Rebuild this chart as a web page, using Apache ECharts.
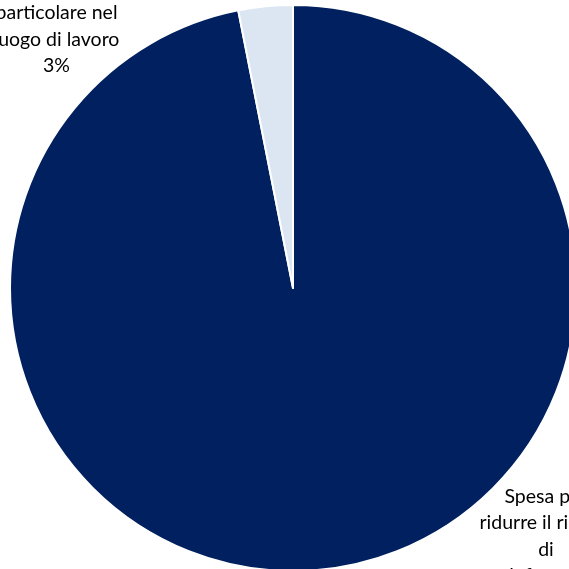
<!DOCTYPE html>
<html><head><meta charset="utf-8">
<script src="https://cdn.jsdelivr.net/npm/echarts@6/dist/echarts.min.js"></script>
<style>html,body{margin:0;padding:0;background:#fff}#c{width:569px;height:569px}</style>
</head><body><div id="c"></div>
<script>
const categories = ["Spesa per\nridurre il rischio\ndi\ninfortuni", "Spesa per la\nsicurezza in\nparticolare nel\nluogo di lavoro"];
const values = [96.9, 3.1];
const colors = ["#002060", "#DCE6F2"];
const labelPos = [{x: 546, y: 483}, {x: 56.5, y: 79}];

const chart = echarts.init(document.getElementById('c'));
chart.setOption({
  animation: false,
  series: [{
    type: 'pie',
    center: [293, 288],
    radius: [0, 283],
    startAngle: 90,
    clockwise: true,
    data: categories.map((n, i) => ({name: n, value: values[i], itemStyle: {color: colors[i]}})),
    itemStyle: {borderColor: '#fff', borderWidth: 2},
    label: {
      show: true,
      position: 'outside',
      formatter: p => p.name + '\n' + Math.round(p.percent) + '%',
      fontFamily: 'Lato',
      fontSize: 19.5,
      lineHeight: 26.5,
      color: '#000',
      align: 'center'
    },
    labelLine: {show: false},
    labelLayout: function (params) {
      const p = labelPos[params.dataIndex];
      return {x: p.x, y: p.y, align: 'center', verticalAlign: params.dataIndex === 0 ? 'top' : 'bottom'};
    }
  }]
});
</script></body></html>
